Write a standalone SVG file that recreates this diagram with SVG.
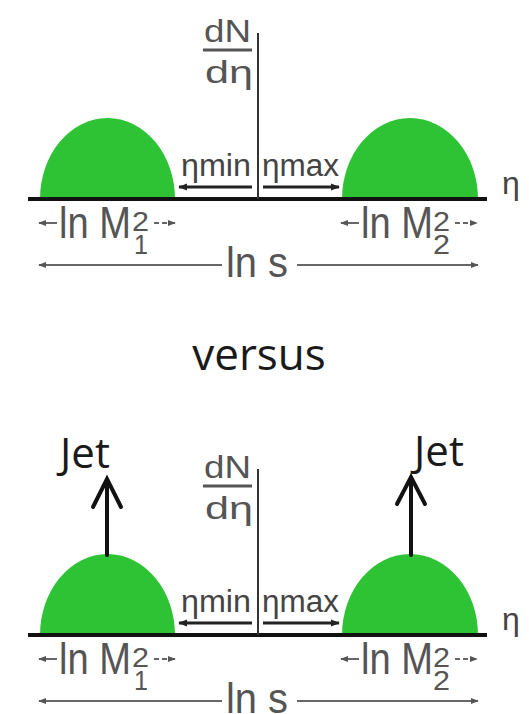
<svg xmlns="http://www.w3.org/2000/svg" width="529" height="714" viewBox="0 0 529 714">
<defs>
<style>
.lbl{font-family:"Liberation Sans",Arial,sans-serif;fill:#555}
.eta{font-family:"Liberation Sans",Arial,sans-serif;fill:#444}
.jet{font-family:"Open Sans","Noto Sans",sans-serif;fill:#1a1a1a;font-size:42px}
.ver{font-family:"Open Sans","Noto Sans",sans-serif;fill:#1a1a1a;font-size:44px}
.dome{fill:#2ec235}
.axis{stroke:#111;stroke-width:4;fill:none}
.vax{stroke:#333;stroke-width:2;fill:none}
.earr{stroke:#222;stroke-width:3;fill:none}
.sarr{stroke:#666;stroke-width:2;fill:none}
.jarr{stroke:#111;stroke-width:4;fill:none;stroke-linecap:round;stroke-linejoin:miter}
</style>
<marker id="ah" viewBox="0 0 10 10" refX="9" refY="5" markerWidth="4" markerHeight="4" orient="auto-start-reverse" markerUnits="strokeWidth">
<path d="M0,1 L10,5 L0,9 Z" fill="#555"/>
</marker>
<marker id="ahe" viewBox="0 0 10 10" refX="9" refY="5" markerWidth="3" markerHeight="3" orient="auto-start-reverse" markerUnits="strokeWidth">
<path d="M0,1 L10,5 L0,9 Z" fill="#222"/>
</marker>
<g id="panel">
<path class="dome" d="M40,199 A67.5,81 0 0 1 175,199 Z"/>
<path class="dome" d="M342,199 A68,81 0 0 1 478,199 Z"/>
<line class="axis" x1="28" y1="199" x2="487" y2="199"/>
<line class="vax" x1="258" y1="33" x2="258" y2="199"/>
<text class="lbl" x="204" y="42" font-size="32" textLength="47" lengthAdjust="spacingAndGlyphs">dN</text>
<line x1="203" y1="50" x2="252" y2="50" stroke="#555" stroke-width="3"/>
<text class="lbl" x="205" y="83" font-size="32" textLength="48" lengthAdjust="spacingAndGlyphs">dη</text>
<text class="eta" x="181" y="176" font-size="31" textLength="70" lengthAdjust="spacingAndGlyphs">ηmin</text>
<text class="eta" x="262" y="176" font-size="31" textLength="77" lengthAdjust="spacingAndGlyphs">ηmax</text>
<line class="earr" x1="252" y1="187" x2="179" y2="187" marker-end="url(#ahe)"/>
<line class="earr" x1="263" y1="187" x2="339" y2="187" marker-end="url(#ahe)"/>
<text class="eta" x="502" y="194" font-size="32">η</text>
<line class="sarr" x1="57" y1="223" x2="39" y2="223" marker-end="url(#ah)"/>
<text class="lbl" x="59" y="238" font-size="44" textLength="72" lengthAdjust="spacingAndGlyphs">ln M</text>
<text class="lbl" x="132" y="231" font-size="28" textLength="17" lengthAdjust="spacingAndGlyphs">2</text>
<text class="lbl" x="134" y="254" font-size="28" textLength="14" lengthAdjust="spacingAndGlyphs">1</text>
<line class="sarr" x1="154" y1="223" x2="175" y2="223" marker-end="url(#ah)" stroke-dasharray="5 3"/>
<line class="sarr" x1="359" y1="223" x2="341" y2="223" marker-end="url(#ah)"/>
<text class="lbl" x="361" y="238" font-size="44" textLength="72" lengthAdjust="spacingAndGlyphs">ln M</text>
<text class="lbl" x="433" y="231" font-size="28" textLength="17" lengthAdjust="spacingAndGlyphs">2</text>
<text class="lbl" x="433" y="254" font-size="28" textLength="17" lengthAdjust="spacingAndGlyphs">2</text>
<line class="sarr" x1="455" y1="223" x2="477" y2="223" marker-end="url(#ah)" stroke-dasharray="5 3"/>
<line class="sarr" x1="222" y1="265" x2="39" y2="265" marker-end="url(#ah)"/>
<text class="lbl" x="226" y="277" font-size="43" textLength="62" lengthAdjust="spacingAndGlyphs">ln s</text>
<line class="sarr" x1="297" y1="265" x2="478" y2="265" marker-end="url(#ah)"/>
</g>
</defs>
<rect width="529" height="714" fill="#fff"/>
<g id="top-panel">
<use href="#panel"/>
</g>
<g id="versus">
<text class="ver" x="259" y="370" text-anchor="middle">versus</text>
</g>
<g id="bottom-panel" transform="translate(0,436)">
<use href="#panel"/>
</g>
<g id="jet-left">
<text class="jet" x="85" y="468" text-anchor="middle">Jet</text>
</g>
<g id="jet-right">
<text class="jet" x="439" y="466" text-anchor="middle">Jet</text>
</g>
<g id="connectors">
<line class="jarr" x1="107" y1="555" x2="107" y2="480"/>
<polyline class="jarr" points="93,507 107,479 121,507"/>
<line class="jarr" x1="411" y1="555" x2="411" y2="478"/>
<polyline class="jarr" points="397,504 411,477 425,504"/>
</g>
</svg>
